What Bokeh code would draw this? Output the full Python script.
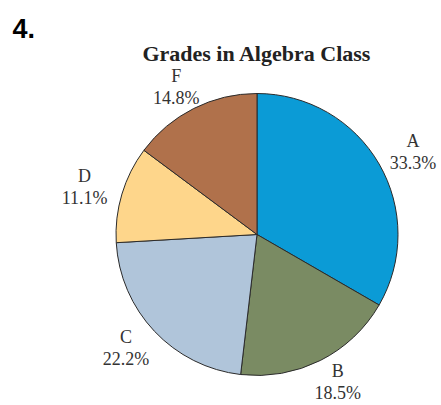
import math
from bokeh.plotting import figure
from bokeh.models import Range1d, ColumnDataSource
from bokeh.core.properties import value
from bokeh.embed import file_html
from bokeh.resources import INLINE

# ---- data ----
grades = ["A", "B", "C", "D", "F"]
percents = [33.3, 18.5, 22.2, 11.1, 14.8]
colors = ["#0b9bd6", "#7a8b63", "#b0c5da", "#fed68b", "#b0714b"]
title_text = "Grades in Algebra Class"
number_text = "4."

# ---- figure in page-pixel-like coordinates (y flipped) ----
W, H = 437, 403
PAGE_H = 405
p = figure(width=W, height=H, output_backend="svg", toolbar_location=None,
           x_range=Range1d(0, W), y_range=Range1d(PAGE_H - H, PAGE_H),
           min_border=0)
p.axis.visible = False
p.grid.visible = False
p.outline_line_color = None

cx, cy, r = 256.5, PAGE_H - 234, 141
total = sum(percents)
starts, ends, mids = [], [], []
cum = 0.0
for v in percents:
    a0 = math.pi / 2 - 2 * math.pi * cum / total
    cum += v
    a1 = math.pi / 2 - 2 * math.pi * cum / total
    starts.append(a0)
    ends.append(a1)
    mids.append((a0 + a1) / 2)

src = ColumnDataSource(dict(start=starts, end=ends, color=colors))
p.wedge(x=cx, y=cy, radius=r, start_angle="start", end_angle="end",
        direction="clock", fill_color="color", line_color="#2b2b2b",
        line_width=1, source=src)

# labels placed outside each slice's middle angle
rx, ry = 180, 165
lx = [cx + rx * math.cos(m) for m in mids]
ly = [cy + ry * math.sin(m) for m in mids]
pct_txt = [f"{v:.1f}%" for v in percents]
p.text(x=lx, y=[y + 11 for y in ly], text=grades, text_align="center",
       text_baseline="middle", text_font=value("Liberation Serif"),
       text_font_size="18px", text_color="#333333")
p.text(x=lx, y=[y - 11 for y in ly], text=pct_txt, text_align="center",
       text_baseline="middle", text_font=value("Liberation Serif"),
       text_font_size="18px", text_color="#333333")

# title and number
p.text(x=[256.5], y=[PAGE_H - 53], text=[title_text], text_align="center",
       text_baseline="alphabetic", text_font=value("Liberation Serif"),
       text_font_style="bold", text_font_size="22px", text_color="#222222")
p.text(x=[12], y=[PAGE_H - 28], text=[number_text], text_align="left",
       text_baseline="alphabetic", text_font=value("Liberation Sans"),
       text_font_style="bold", text_font_size="27px", text_color="#000000")

open("out.html", "w").write(file_html(p, INLINE))
